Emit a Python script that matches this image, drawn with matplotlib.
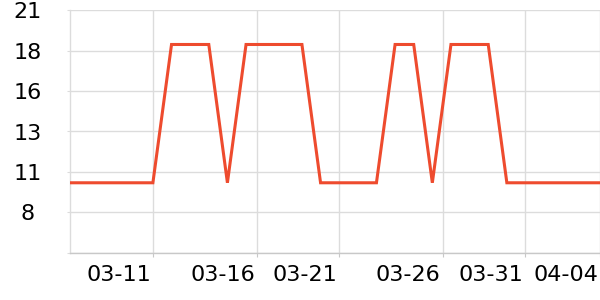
import matplotlib
matplotlib.use("Agg")
import matplotlib.pyplot as plt
import matplotlib.transforms as mtransforms
import numpy as np
import pandas as pd

# ---- data ----
dates = pd.date_range("2024-03-06", "2024-04-04", freq="D")
values = [9.9, 9.9, 9.9, 9.9, 9.9, 9.9,
          18.8, 18.8, 18.8,
          9.9,
          18.8, 18.8, 18.8, 18.8,
          9.9, 9.9, 9.9, 9.9,
          18.8, 18.8,
          9.9,
          18.8, 18.8, 18.8,
          9.9, 9.9, 9.9, 9.9, 9.9, 9.9]

y_ticks = [5.4, 8.0, 10.6, 13.2, 15.8, 18.4, 21.0]
y_labels = ["", "8", "11", "13", "16", "18", "21"]

x_tick_times = pd.to_datetime(["2024-03-11 00:00", "2024-03-16 14:24", "2024-03-21 00:00",
                               "2024-03-26 13:12", "2024-03-31 00:00", "2024-04-04 00:00"])
x_labels = ["03-11", "03-16", "03-21", "03-26", "03-31", "04-04"]
x_start = pd.Timestamp("2024-03-06 13:12")
x_end = pd.Timestamp("2024-04-04 00:00")

line_color = "#EE4B2E"
grid_color = "#DCDCDC"

fig = plt.figure(figsize=(6, 3), dpi=100)
ax = fig.add_axes([70/600, 1 - 252.7/300, 530/600, (252.7 - 10.3)/300])

ax.plot(dates, values, color=line_color, linewidth=2.2, solid_joinstyle="miter", zorder=3)

ax.set_xlim(x_start, x_end)
ax.set_ylim(y_ticks[0], y_ticks[-1])
ax.set_yticks(y_ticks)
ax.set_yticklabels(y_labels)
ax.set_xticks(x_tick_times)
ax.set_xticklabels(x_labels)

ax.grid(True, color=grid_color, linewidth=1)
ax.set_axisbelow(True)
for side in ["top", "right"]:
    ax.spines[side].set_visible(False)
ax.spines["left"].set_color(grid_color)
ax.spines["bottom"].set_color("#C8C8C8")
ax.spines["left"].set_linewidth(1)
ax.spines["bottom"].set_linewidth(1)

ax.tick_params(axis="y", length=2, color=grid_color, pad=28.8, labelsize=16)
ax.tick_params(axis="x", length=3, color="#C8C8C8", pad=6, labelsize=16)
for lab in ax.get_yticklabels():
    lab.set_horizontalalignment("center")
    lab.set_color("black")
offset = mtransforms.ScaledTranslation(-2/100, 0, fig.dpi_scale_trans)
for lab in ax.get_xticklabels():
    lab.set_horizontalalignment("right")
    lab.set_transform(lab.get_transform() + offset)
    lab.set_color("black")

fig.savefig("out.png", dpi=100)
